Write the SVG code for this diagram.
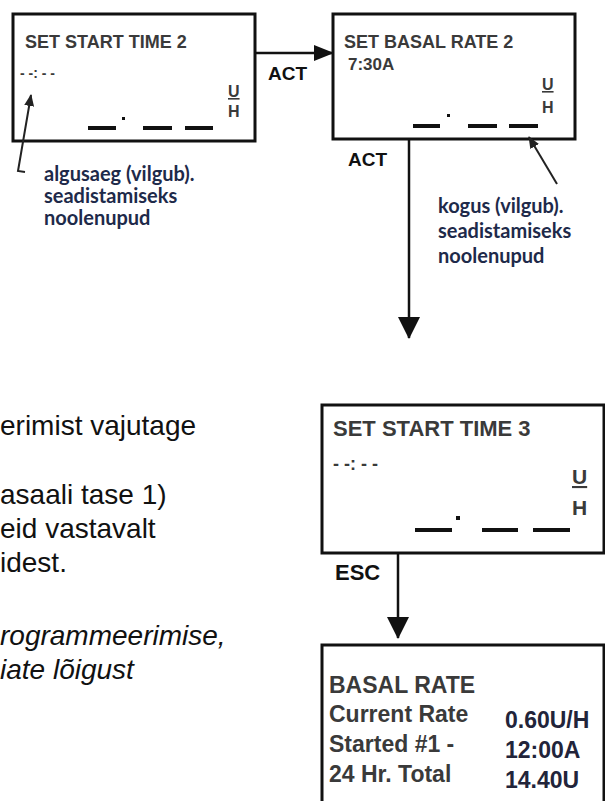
<svg xmlns="http://www.w3.org/2000/svg" width="605" height="801" viewBox="0 0 605 801">
<style>
.box{fill:#fff;stroke:#111;stroke-width:3}
.ttl{font-family:"Liberation Sans",Arial,sans-serif;font-weight:bold;fill:#3a3a3a}
.val{font-family:"Liberation Sans",Arial,sans-serif;font-weight:bold;fill:#22243a}
.lbl{font-family:"Liberation Sans",Arial,sans-serif;font-weight:bold;fill:#111}
.ann{font-family:Lato,"Open Sans",sans-serif;font-weight:bold;font-size:20px;fill:#1e2a4a}
.body{font-family:"Liberation Sans",Arial,sans-serif;font-size:28px;fill:#111}
.it{font-style:italic}
.dash{stroke:#111;stroke-width:4}
.con{stroke:#111;stroke-width:2.5;fill:none}
.ptr{stroke:#222;stroke-width:2;fill:none}
</style>
<defs>
<marker id="ah" viewBox="0 0 20 16" refX="19" refY="8" markerWidth="20" markerHeight="16" markerUnits="userSpaceOnUse" orient="auto"><path d="M0,0 L20,8 L0,16 z" fill="#111"/></marker>
<marker id="ahb" viewBox="0 0 22 22" refX="21" refY="11" markerWidth="22" markerHeight="22" markerUnits="userSpaceOnUse" orient="auto"><path d="M0,0 L22,11 L0,22 z" fill="#111"/></marker>
<marker id="ahs" viewBox="0 0 12 10" refX="11" refY="5" markerWidth="12" markerHeight="10" markerUnits="userSpaceOnUse" orient="auto"><path d="M0,0 L12,5 L0,10 z" fill="#222"/></marker>
</defs>
<rect width="605" height="801" fill="#fff"/>

<g id="connectors">
<line class="con" x1="255" y1="53" x2="333" y2="53" marker-end="url(#ah)"/>
<line class="con" x1="409" y1="139" x2="409" y2="338" marker-end="url(#ahb)"/>
<line class="con" x1="398" y1="553" x2="398" y2="638" marker-end="url(#ahb)"/>
<text class="lbl" x="268" y="80" font-size="19">ACT</text>
<text class="lbl" x="348" y="166" font-size="19">ACT</text>
<text class="lbl" x="335" y="580" font-size="22">ESC</text>
</g>

<g id="node-start2">
<rect class="box" x="13" y="14" width="242" height="127"/>
<text class="ttl" x="25" y="48" font-size="18">SET START TIME 2</text>
<text class="ttl" x="20" y="78" font-size="14" font-weight="normal">- -: - -</text>
<text class="ttl" x="228" y="97" font-size="16" text-decoration="underline">U</text>
<text class="ttl" x="228" y="117" font-size="16">H</text>
<line class="dash" x1="88" y1="128" x2="116" y2="128"/>
<rect x="122" y="117" width="3" height="3" fill="#111"/>
<line class="dash" x1="143" y1="128" x2="172" y2="128"/>
<line class="dash" x1="185" y1="128" x2="213" y2="128"/>
</g>

<g id="note-start2">
<polyline class="ptr" points="25,172 18,171 31,95" marker-end="url(#ahs)"/>
<text class="ann" x="44" y="181">algusaeg (vilgub).</text>
<text class="ann" x="44" y="203">seadistamiseks</text>
<text class="ann" x="44" y="225">noolenupud</text>
</g>

<g id="node-basal2">
<rect class="box" x="333" y="14" width="242" height="125"/>
<text class="ttl" x="344" y="48" font-size="18">SET BASAL RATE 2</text>
<text class="ttl" x="348" y="70" font-size="17">7:30A</text>
<text class="ttl" x="542" y="90" font-size="16" text-decoration="underline">U</text>
<text class="ttl" x="542" y="113" font-size="16">H</text>
<line class="dash" x1="413" y1="126" x2="440" y2="126"/>
<rect x="447" y="114" width="3" height="3" fill="#111"/>
<line class="dash" x1="468" y1="126" x2="497" y2="126"/>
<line class="dash" x1="509" y1="126" x2="538" y2="126"/>
</g>

<g id="note-basal2">
<line class="ptr" x1="557" y1="184" x2="529" y2="137" marker-end="url(#ahs)"/>
<text class="ann" x="438" y="213">kogus (vilgub).</text>
<text class="ann" x="438" y="238">seadistamiseks</text>
<text class="ann" x="438" y="263">noolenupud</text>
</g>

<g id="body-text">
<text class="body" x="0" y="435">erimist vajutage</text>
<text class="body" x="0" y="504">asaali tase 1)</text>
<text class="body" x="0" y="538">eid vastavalt</text>
<text class="body" x="0" y="572">idest.</text>
<text class="body it" x="0" y="645">rogrammeerimise,</text>
<text class="body it" x="0" y="679">iate lõigust</text>
</g>

<g id="node-start3">
<rect class="box" x="322" y="405" width="282" height="148"/>
<text class="ttl" x="333" y="436" font-size="22">SET START TIME 3</text>
<text class="ttl" x="333" y="470" font-size="18" font-weight="normal">- -: - -</text>
<text class="ttl" x="572" y="484" font-size="21" text-decoration="underline">U</text>
<text class="ttl" x="572" y="515" font-size="21">H</text>
<line class="dash" x1="415" y1="530" x2="452" y2="530" stroke-width="5"/>
<rect x="456" y="516" width="4" height="4" fill="#111"/>
<line class="dash" x1="482" y1="530" x2="518" y2="530" stroke-width="5"/>
<line class="dash" x1="533" y1="530" x2="570" y2="530" stroke-width="5"/>
</g>

<g id="node-basalrate">
<rect class="box" x="322" y="645" width="282" height="170"/>
<text class="ttl" x="329" y="693" font-size="23">BASAL RATE</text>
<text class="ttl" x="329" y="722" font-size="23">Current Rate</text>
<text class="ttl" x="329" y="752" font-size="23">Started #1 -</text>
<text class="ttl" x="329" y="782" font-size="23">24 Hr. Total</text>
<text class="val" x="505" y="728" font-size="23">0.60U/H</text>
<text class="val" x="505" y="758" font-size="23">12:00A</text>
<text class="val" x="505" y="788" font-size="23">14.40U</text>
</g>
</svg>
